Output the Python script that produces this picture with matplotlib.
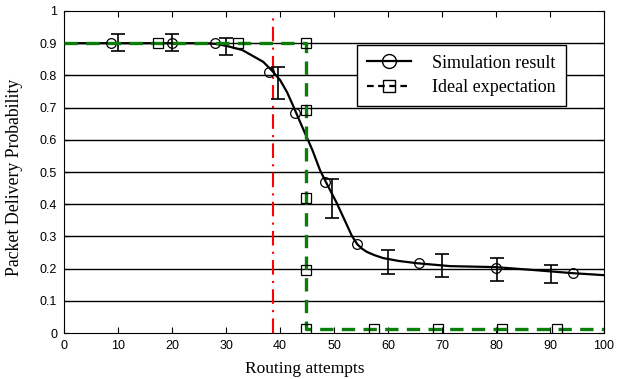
import matplotlib
matplotlib.use("Agg")
import matplotlib.pyplot as plt
from matplotlib.lines import Line2D

# Simulation curve
curve_x = [0, 10, 20, 26, 28, 30, 33, 36.9, 38.5, 40.0, 41.3, 42.5, 43.7, 46.0, 47.4, 48.5, 50.5, 52.4, 53.3, 54.3, 55.2, 56.1, 57.5, 59.1, 62.0, 65.4, 71.5, 79.8, 86.9, 94.3, 100]
curve_y = [0.9, 0.9, 0.9, 0.9, 0.898, 0.892, 0.879, 0.842, 0.815, 0.786, 0.748, 0.703, 0.656, 0.568, 0.506, 0.469, 0.404, 0.335, 0.302, 0.276, 0.262, 0.252, 0.242, 0.233, 0.224, 0.217, 0.208, 0.205, 0.196, 0.186, 0.18]

# Simulation markers
sim_x = [8.7, 20, 28, 38, 42.8, 48.3, 54.3, 65.7, 80, 94.3]
sim_y = [0.9, 0.9, 0.9, 0.81, 0.683, 0.469, 0.276, 0.217, 0.202, 0.186]

# Error bars
err_x = [10, 20, 30, 39.6, 49.6, 60, 70, 80.2, 90.2]
err_lo = [0.876, 0.876, 0.863, 0.727, 0.357, 0.183, 0.174, 0.162, 0.155]
err_hi = [0.928, 0.928, 0.916, 0.826, 0.478, 0.258, 0.245, 0.233, 0.211]

# Ideal expectation
ideal_x = [0, 17.4, 32.2, 44.8, 44.8, 44.8, 44.8, 44.8, 57.4, 69.3, 81.1, 91.3, 100]
ideal_y = [0.9, 0.9, 0.9, 0.9, 0.693, 0.42, 0.196, 0.012, 0.012, 0.012, 0.012, 0.012, 0.012]

threshold_x = 38.7

xticks = [0, 10, 20, 30, 40, 50, 60, 70, 80, 90, 100]
yticks = [0, 0.1, 0.2, 0.3, 0.4, 0.5, 0.6, 0.7, 0.8, 0.9, 1]
ytick_labels = ["0", "0.1", "0.2", "0.3", "0.4", "0.5", "0.6", "0.7", "0.8", "0.9", "1"]
legend_labels = ["Simulation result", "Ideal expectation"]

fig = plt.figure(figsize=(6.18, 3.79), dpi=100)
ax = fig.add_axes([0.1036, 0.121, 0.8738, 0.850])

for y in yticks[1:-1]:
    ax.axhline(y, color="black", lw=1.0, zorder=0)

ax.axvline(threshold_x, color="red", lw=1.5, linestyle=(0, (7, 3, 1, 3)), zorder=1)

ax.plot(curve_x, curve_y, color="black", lw=1.6, zorder=3)
ax.plot(sim_x, sim_y, linestyle="none", marker="o", mfc="none", mec="black", ms=7, mew=0.9, zorder=4)

for x, lo, hi in zip(err_x, err_lo, err_hi):
    mid = (lo + hi) / 2
    ax.errorbar([x], [mid], yerr=[[mid - lo], [hi - mid]], fmt="none", ecolor="black",
                elinewidth=1.2, capsize=5, capthick=1.2, zorder=3)

ax.plot(ideal_x, ideal_y, color="#0a7d0a", lw=2.4, linestyle=(0, (4, 2.5)),
        marker="s", ms=6.5, mfc="none", mec="black", mew=0.9,
        markevery=list(range(1, len(ideal_x) - 1)), zorder=5)

ax.set_xlim(0, 100)
ax.set_ylim(0, 1)
ax.set_xticks(xticks)
ax.set_yticks(yticks)
ax.set_yticklabels(ytick_labels)
ax.tick_params(direction="in", top=True, right=True, length=4, labelsize=9, pad=5)
for lab in ax.get_xticklabels() + ax.get_yticklabels():
    lab.set_fontfamily("Liberation Sans")

fig.text(305 / 618, 1 - 369 / 379, "Routing attempts", fontfamily="Liberation Serif",
         fontsize=12.5, ha="center", va="center")
fig.text(15 / 618, 1 - 177 / 379, "Packet Delivery Probability", fontfamily="Liberation Serif",
         fontsize=12.8, ha="center", va="center", rotation=90)

handles = [
    Line2D([], [], color="black", lw=1.6, marker="o", mfc="none", mec="black", ms=10),
    Line2D([], [], color="black", lw=1.6, linestyle=(0, (3, 2)), marker="s", mfc="none", mec="black", ms=9),
]
leg = ax.legend(handles, legend_labels,
                loc="upper left", bbox_to_anchor=(0.543, 0.895), fancybox=False,
                framealpha=1, edgecolor="black", prop={"family": "Liberation Serif", "size": 13},
                handlelength=2.4, handletextpad=1.2, borderpad=0.55, labelspacing=0.4,
                borderaxespad=0)
leg.get_frame().set_linewidth(1.0)

fig.savefig("out.png", dpi=100)
